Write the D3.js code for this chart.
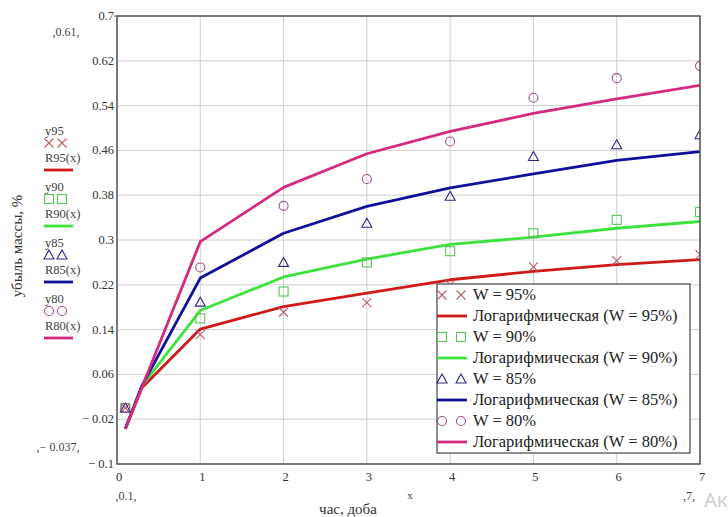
<!DOCTYPE html>
<html>
<head>
<meta charset="utf-8">
<script src="https://cdn.jsdelivr.net/npm/d3@7"></script>
<style>
  body { margin: 0; background: #fff; }
  svg { display: block; }
  svg text { font-family: "Liberation Serif", "Times New Roman", serif; }
</style>
</head>
<body>
<div id="graphicContainer"></div>
<script>
// measured points, x in days
var xData = [0.1, 1, 2, 3, 4, 5, 6, 7]
var y95 = [0.0, 0.131, 0.171, 0.188, 0.22, 0.252, 0.263, 0.274]
var y90 = [0.0, 0.16, 0.208, 0.26, 0.28, 0.312, 0.336, 0.35]
var y85 = [0.0, 0.189, 0.26, 0.33, 0.378, 0.449, 0.47, 0.488]
var y80 = [0.0, 0.251, 0.361, 0.409, 0.476, 0.554, 0.589, 0.611]

// logarithmic trend lines
var xFit = [0.1, 0.3, 1, 2, 3, 4, 5, 6, 7]
var r95 = [-0.037, 0.036, 0.141, 0.181, 0.205, 0.229, 0.244, 0.256, 0.265]
var r90 = [-0.037, 0.04, 0.174, 0.234, 0.266, 0.292, 0.305, 0.321, 0.333]
var r85 = [-0.037, 0.04, 0.232, 0.312, 0.36, 0.393, 0.418, 0.442, 0.458]
var r80 = [-0.037, 0.037, 0.297, 0.394, 0.454, 0.494, 0.526, 0.552, 0.576]

var xTicks = [0, 1, 2, 3, 4, 5, 6, 7]
var yTicks = [-0.1, -0.02, 0.06, 0.14, 0.22, 0.3, 0.38, 0.46, 0.54, 0.62, 0.7]
var keys = ["95", "90", "85", "80"]

var series = [
  { key: keys[0], pts: y95, fit: r95, shape: "x", mcol: "#b8606a", lcol: "#d01a1a" },
  { key: keys[1], pts: y90, fit: r90, shape: "square", mcol: "#5cc25c", lcol: "#3ee23e" },
  { key: keys[2], pts: y85, fit: r85, shape: "tri", mcol: "#2a2a80", lcol: "#10109c" },
  { key: keys[3], pts: y80, fit: r80, shape: "circle", mcol: "#a0508e", lcol: "#d42a80" }
]

var width = 728, height = 517
var pLeft = 117, pRight = 700, pTop = 16, pBottom = 464

var svg = d3.select("#graphicContainer")
  .append("svg")
  .attr("width", width)
  .attr("height", height)

var x = d3.scaleLinear().domain([0, 7]).range([pLeft, pRight])
var y = d3.scaleLinear().domain([-0.1, 0.7]).range([pBottom, pTop])

svg.append("clipPath").attr("id", "plotClip")
  .append("rect")
  .attr("x", pLeft).attr("y", pTop)
  .attr("width", pRight - pLeft).attr("height", pBottom - pTop)

// grid
svg.append("g")
  .selectAll("line")
  .data(xTicks)
  .join("line")
  .attr("x1", d => x(d)).attr("x2", d => x(d))
  .attr("y1", pTop).attr("y2", pBottom)
  .attr("stroke", "#cfcfcf")
  .attr("stroke-width", 1)

svg.append("g")
  .selectAll("line")
  .data(yTicks)
  .join("line")
  .attr("x1", pLeft).attr("x2", pRight)
  .attr("y1", d => y(d)).attr("y2", d => y(d))
  .attr("stroke", "#cfcfcf")
  .attr("stroke-width", 1)

function fmtY(d) {
  var s = d3.format("~g")(Math.round(d * 100) / 100)
  return d < 0 ? "\u2212 " + s.slice(1) : s
}

// axes labels
svg.append("g")
  .selectAll("text")
  .data(yTicks)
  .join("text")
  .attr("x", pLeft - 3)
  .attr("y", d => y(d) + 4)
  .attr("text-anchor", "end")
  .attr("font-size", 12.5)
  .attr("fill", "#333")
  .text(fmtY)

svg.append("line")
  .attr("x1", pLeft - 3).attr("x2", pLeft).attr("y1", pTop).attr("y2", pTop)
  .attr("stroke", "#555")

svg.append("g")
  .selectAll("text")
  .data(xTicks)
  .join("text")
  .attr("x", d => x(d) + 2)
  .attr("y", pBottom + 17)
  .attr("text-anchor", "middle")
  .attr("font-size", 12.5)
  .attr("fill", "#333")
  .text(d => d)

// fitted lines
var line = d3.line()
  .x((d, i) => x(xFit[i]))
  .y(d => y(d))

var plot = svg.append("g").attr("clip-path", "url(#plotClip)")

plot.selectAll("path.fit")
  .data(series)
  .join("path")
  .attr("class", "fit")
  .attr("d", d => line(d.fit))
  .attr("fill", "none")
  .attr("stroke", d => d.lcol)
  .attr("stroke-width", 2.8)
  .attr("stroke-linejoin", "round")

function drawMarker(g, shape, col, cx, cy) {
  if (shape == "x") {
    g.append("path")
      .attr("d", "M" + (cx - 4.5) + "," + (cy - 4.5) + "L" + (cx + 4.5) + "," + (cy + 4.5) +
        "M" + (cx - 4.5) + "," + (cy + 4.5) + "L" + (cx + 4.5) + "," + (cy - 4.5))
      .attr("stroke", col).attr("stroke-width", 1.1).attr("fill", "none")
  } else if (shape == "square") {
    g.append("rect")
      .attr("x", cx - 4.5).attr("y", cy - 4.5).attr("width", 9).attr("height", 9)
      .attr("stroke", col).attr("stroke-width", 1.1).attr("fill", "none")
  } else if (shape == "tri") {
    g.append("path")
      .attr("d", "M" + cx + "," + (cy - 5) + "L" + (cx + 5) + "," + (cy + 4) + "L" + (cx - 5) + "," + (cy + 4) + "Z")
      .attr("stroke", col).attr("stroke-width", 1.1).attr("fill", "none")
  } else {
    g.append("circle")
      .attr("cx", cx).attr("cy", cy).attr("r", 4.5)
      .attr("stroke", col).attr("stroke-width", 1.1).attr("fill", "none")
  }
}

series.forEach(function (s) {
  var g = plot.append("g")
  s.pts.forEach(function (v, i) {
    drawMarker(g, s.shape, s.mcol, x(xData[i]), y(v))
  })
})

// frame
svg.append("rect")
  .attr("x", pLeft).attr("y", pTop)
  .attr("width", pRight - pLeft).attr("height", pBottom - pTop)
  .attr("fill", "none")
  .attr("stroke", "#555")
  .attr("stroke-width", 1.5)

// legend box
var lgX = 437, lgY = 284, lgW = 253, lgH = 169, rowH = 21
var lg = svg.append("g")
lg.append("rect")
  .attr("x", lgX).attr("y", lgY).attr("width", lgW).attr("height", lgH)
  .attr("fill", "#fff").attr("stroke", "#444").attr("stroke-width", 1.2)

series.forEach(function (s, i) {
  var cy1 = lgY + 11 + i * 2 * rowH
  var cy2 = cy1 + rowH
  drawMarker(lg, s.shape, s.mcol, lgX + 5, cy1)
  drawMarker(lg, s.shape, s.mcol, lgX + 24, cy1)
  lg.append("text").attr("x", lgX + 36).attr("y", cy1 + 5)
    .attr("font-size", 16.5).attr("fill", "#222")
    .text("W = " + s.key + "%")
  lg.append("line")
    .attr("x1", lgX).attr("x2", lgX + 30).attr("y1", cy2).attr("y2", cy2)
    .attr("stroke", s.lcol).attr("stroke-width", 2.8)
  lg.append("text").attr("x", lgX + 36).attr("y", cy2 + 5)
    .attr("font-size", 16.5).attr("fill", "#222")
    .text("Логарифмическая (W = " + s.key + "%)")
})

// MathCAD-style side legend
series.forEach(function (s, i) {
  var gy = 131 + i * 56
  var g = svg.append("g")
  g.append("text").attr("x", 45).attr("y", gy + 4)
    .attr("font-size", 12.5).attr("fill", "#444").text("y" + s.key)
  drawMarker(g, s.shape, s.mcol, 49, gy + 12)
  drawMarker(g, s.shape, s.mcol, 62, gy + 12)
  g.append("text").attr("x", 45).attr("y", gy + 31)
    .attr("font-size", 12.5).attr("fill", "#444").text("R" + s.key + "(x)")
  g.append("line")
    .attr("x1", 44).attr("x2", 73).attr("y1", gy + 39).attr("y2", gy + 39)
    .attr("stroke", s.lcol).attr("stroke-width", 2.8)
})

// axis titles and range markers
svg.append("text")
  .attr("transform", "translate(22,246) rotate(-90)")
  .attr("text-anchor", "middle")
  .attr("font-size", 15).attr("fill", "#333")
  .text("убыль массы, %")

svg.append("text").attr("x", 348).attr("y", 514)
  .attr("text-anchor", "middle").attr("font-size", 15).attr("fill", "#333")
  .text("час, доба")

svg.append("text").attr("x", 410).attr("y", 499)
  .attr("text-anchor", "middle").attr("font-size", 11).attr("fill", "#444")
  .text("x")

svg.append("text").attr("x", 66).attr("y", 36)
  .attr("text-anchor", "middle").attr("font-size", 12).attr("fill", "#444")
  .text(",0.61,")

svg.append("text").attr("x", 58).attr("y", 451)
  .attr("text-anchor", "middle").attr("font-size", 12).attr("fill", "#444")
  .text(",\u2212 0.037,")

svg.append("text").attr("x", 126).attr("y", 500)
  .attr("text-anchor", "middle").attr("font-size", 12).attr("fill", "#444")
  .text(",0.1,")

svg.append("text").attr("x", 689).attr("y", 500)
  .attr("text-anchor", "middle").attr("font-size", 12).attr("fill", "#444")
  .text(",7,")

svg.append("text").attr("x", 704).attr("y", 507)
  .style("font-family", "'Noto Sans', sans-serif")
  .attr("font-size", 20).attr("fill", "#cfcfcf")
  .text("Ак")
</script>
</body>
</html>
